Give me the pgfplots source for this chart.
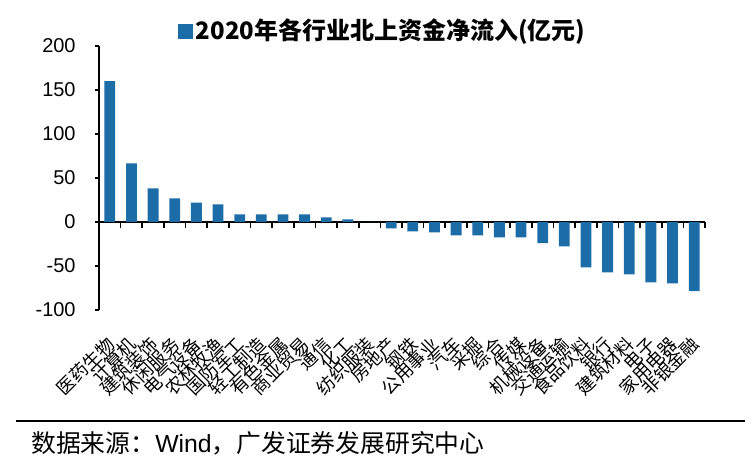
\documentclass[border=0pt]{standalone}
\usepackage{pgfplots}
\pgfplotsset{compat=1.18}
\usepackage{pgfplotstable}
\usepackage{fontspec}
\setmainfont{Liberation Sans}
\newfontfamily\arial{Liberation Sans}
\newfontfamily\cjk{Noto Sans CJK SC}
\definecolor{barblue}{RGB}{27,108,167}
\pgfplotstableread{
x y
0 160
1 66.7
2 38.3
3 26.9
4 22
5 20
6 8.8
7 8.8
8 8.8
9 8.8
10 5.3
11 3
12 0
13 -7.2
14 -10.6
15 -11.7
16 -15.1
17 -15.1
18 -17.4
19 -17.4
20 -23.9
21 -27.6
22 -51.5
23 -57.2
24 -59.5
25 -68.5
26 -69.7
27 -78.5
}\datatable
\begin{document}
\begin{tikzpicture}
\path[use as bounding box] (0,0) rectangle (567pt,353.25pt);
\begin{axis}[
  at={(74.25pt,120.75pt)}, anchor=south west,
  scale only axis, width=454.5pt, height=198pt,
  xmin=-0.5, xmax=27.5, ymin=-100, ymax=200,
  axis x line=middle, axis y line=left,
  axis line style={-},
  x axis line style={line width=1.4pt},
  y axis line style={line width=1pt},
  ytick={-100,-50,...,200},
  xtick={0,...,27},
  xticklabels={医药生物,计算机,建筑装饰,休闲服务,电气设备,农林牧渔,国防军工,轻工制造,有色金属,商业贸易,通信,化工,纺织服装,房地产,钢铁,公用事业,汽车,采掘,综合,传媒,机械设备,交通运输,食品饮料,银行,建筑材料,电子,家用电器,非银金融},
  minor xtick={-0.5,0.5,...,27.5},
  tick align=outside,
  major tick length=3pt,
  minor tick length=4.5pt,
  major x tick style={draw=none},
  minor x tick style={black, line width=1.2pt},
  y tick style={black, line width=1pt},
  hide obscured x ticks=false, hide obscured y ticks=false,
  /pgf/number format/assume math mode=true,
  yticklabel style={font=\arial\fontsize{15}{15}\selectfont, xshift=-11pt},
  xticklabel style={font=\cjk\fontsize{13.5}{13.5}\selectfont, yshift=-86pt, xshift=1pt, rotate=45, anchor=east, inner sep=0pt},
  legend style={at={(0.469,1.061)}, anchor=center, draw=none, fill=none,
    font=\cjk\bfseries\fontsize{18}{18}\selectfont},
  legend image code/.code={\fill[barblue] (0pt,-7pt) rectangle (11.25pt,4.25pt);},
  clip=false,
]
\addplot[ybar, fill=barblue, draw=none, bar width=0.5] table[x=x, y=y] {\datatable};
\addlegendentry{2020年各行业北上资金净流入(亿元)}
\end{axis}
\draw[line width=1pt, black] (12pt,37.5pt) -- (558.75pt,37.5pt);
\node[anchor=west, inner sep=0pt] at (23.25pt,21pt) {\cjk\fontsize{18.6}{18.6}\selectfont 数据来源：{\arial Wind}，广发证券发展研究中心};
\end{tikzpicture}
\end{document}
